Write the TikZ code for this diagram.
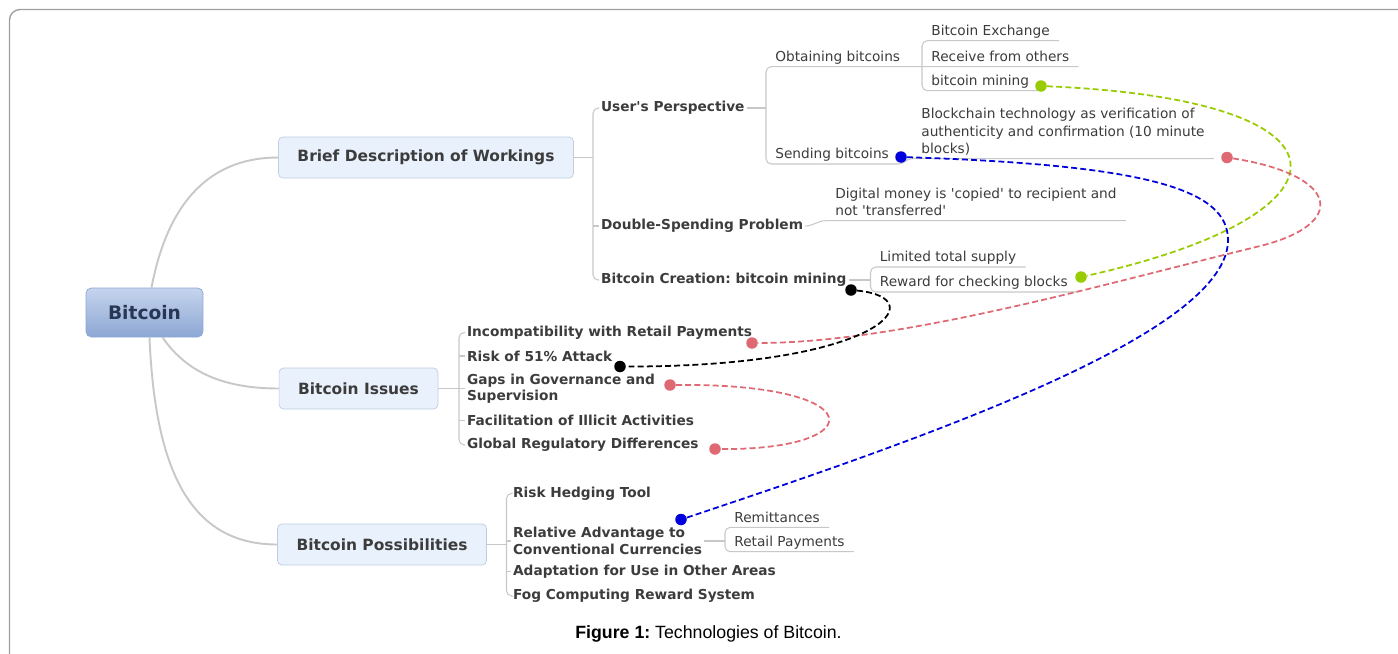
\documentclass[tikz,border=0pt]{standalone}
\usepackage{fontspec}
\setmainfont{DejaVu Sans}
\newfontfamily\capfont{Liberation Sans}
\usetikzlibrary{calc}
\frenchspacing

\definecolor{branchgray}{RGB}{200,200,200}
\definecolor{framegray}{RGB}{160,160,160}
\definecolor{topicfill}{RGB}{233,241,252}
\definecolor{topicline}{RGB}{190,205,226}
\definecolor{rootlight}{RGB}{198,212,237}
\definecolor{rootdark}{RGB}{140,167,212}
\definecolor{rootink}{RGB}{40,55,85}
\definecolor{inktext}{RGB}{60,60,60}
\definecolor{relgreen}{RGB}{153,204,0}
\definecolor{relblue}{RGB}{0,0,220}
\definecolor{relred}{RGB}{222,105,115}

\begin{document}
\begin{tikzpicture}[x=0.02cm,y=-0.02cm,
    rootbox/.style={draw=rootdark,rounded corners=3pt,top color=rootlight,bottom color=rootdark,
      font=\bfseries\fontsize{10.6}{12}\selectfont,text=rootink,inner xsep=0.44cm,minimum height=0.98cm},
    topicbox/.style={draw=topicline,fill=topicfill,rounded corners=2.5pt,
      font=\bfseries\fontsize{8.8}{10}\selectfont,text=inktext,inner xsep=0.38cm,minimum height=0.82cm},
    subtopic/.style={anchor=west,inner sep=1pt,align=left,font=\bfseries\fontsize{7.8}{9.4}\selectfont,text=inktext},
    leaf/.style={anchor=south west,inner xsep=0.18cm,inner ysep=0.8pt,text depth=1.9pt,align=left,
      font=\fontsize{7.8}{9.9}\selectfont,text=inktext},
    branch/.style={draw=branchgray,line width=0.6pt},
    trunk/.style={draw=branchgray,line width=1.1pt},
    reldot/.style={circle,fill=#1,inner sep=0pt,minimum size=0.23cm},
    rel/.style={draw=#1,line width=1pt,dash pattern=on 3.4pt off 1.8pt}]
  \useasboundingbox (0,0) rectangle (1398,653);
  \draw[framegray,line width=0.8pt,rounded corners=6pt] (9.5,700) -- (9.5,9.5) -- (1450,9.5);

  % central topic and main branches
  \node[rootbox] (root) at (144.5,312.5) {Bitcoin};
  \node[topicbox] (brief) at (426,157.5) {Brief Description of Workings};
  \node[topicbox] (issues) at (358.5,388.5) {Bitcoin Issues};
  \node[topicbox] (poss) at (382,544.5) {Bitcoin Possibilities};
  \draw[trunk] ($(root.north)+(7,0)$) .. controls (170,190) and (220,157.5) .. (brief.west);
  \draw[trunk] ($(root.south)+(18,0)$) .. controls (185,370) and (220,388.5) .. (issues.west);
  \draw[trunk] ($(root.south)+(5,0)$) .. controls (155,470) and (190,544.5) .. (poss.west);

  % workings
  \node[subtopic] (up) at (599,108) {User\textquotesingle s Perspective};
  \node[subtopic] (ds) at (599,226) {Double-Spending Problem};
  \node[subtopic] (bc) at (599,280) {Bitcoin Creation: bitcoin mining};
  \coordinate (b1) at (593,157.5);
  \draw[branch] (brief.east) -- (b1);
  \draw[branch,rounded corners=3pt] (up.west) -| (b1) |- (bc.west);
  \draw[branch] (ds.west) -- (ds.west -| b1);

  \node[leaf] (obt) at (766,66.7) {Obtaining bitcoins};
  \node[leaf] (snd) at (766,164) {Sending bitcoins};
  \node[leaf] (exch) at (922,40.7) {Bitcoin Exchange};
  \node[leaf] (recv) at (922,66.7) {Receive from others};
  \node[leaf] (mine) at (922,90.7) {bitcoin mining};
  \node[leaf] (chain) at (912,158.7) {Blockchain technology as verification of\\authenticity and confirmation (10 minute\\blocks)};
  \node[leaf] (copy) at (826,220.7) {Digital money is \textquotesingle copied\textquotesingle\ to recipient and\\not \textquotesingle transferred\textquotesingle};
  \node[leaf] (supply) at (870.5,267) {Limited total supply};
  \node[leaf] (reward) at (870.5,292) {Reward for checking blocks};
  \draw[branch] (up.east) -- (up.east -| obt.south west);
  \draw[branch,rounded corners=3pt] (recv.south east) -- (obt.south west) -- (snd.south west) -- (snd.south east);
  \draw[branch,rounded corners=3pt] (exch.south east) -- (exch.south west) -- (mine.south west) -- (mine.south east);
  \draw[branch] (snd.south east) to[out=0,in=180] (chain.south west) -- (chain.south east);
  \draw[branch] (ds.east) to[out=0,in=180] (copy.south west) -- (copy.south east);
  \draw[branch] (bc.east) -- (bc.east -| supply.south west);
  \draw[branch,rounded corners=3pt] (supply.south east) -- (supply.south west) -- (reward.south west) -- (reward.south east);

  % issues
  \node[subtopic] (inc) at (465,332.5) {Incompatibility with Retail Payments};
  \node[subtopic] (r51) at (465,356) {Risk of 51\% Attack};
  \node[subtopic] (gap) at (465,388.7) {Gaps in Governance and\\Supervision};
  \node[subtopic] (ill) at (465,420.7) {Facilitation of Illicit Activities};
  \node[subtopic] (glob) at (465,445) {Global Regulatory Differences};
  \coordinate (b2) at (459,388.5);
  \draw[branch] (issues.east) -- (b2);
  \draw[branch,rounded corners=3pt] (inc.west) -| (b2) |- (glob.west);
  \foreach \n in {r51,gap,ill}
    \draw[branch] (\n.west) -- (\n.west -| b2);

  % possibilities
  \node[subtopic] (hedge) at (511,493.3) {Risk Hedging Tool};
  \node[subtopic] (rel) at (511,541) {Relative Advantage to\\Conventional Currencies};
  \node[subtopic] (adapt) at (511,571.7) {Adaptation for Use in Other Areas};
  \node[subtopic] (fog) at (511,596) {Fog Computing Reward System};
  \coordinate (b3) at (506.5,544.5);
  \draw[branch] (poss.east) -- (b3);
  \draw[branch,rounded corners=3pt] (hedge.west) -| (b3) |- (fog.west);
  \foreach \n in {rel,adapt}
    \draw[branch] (\n.west) -- (\n.west -| b3);
  \node[leaf] (remit) at (725,527.3) {Remittances};
  \node[leaf] (retail) at (725,551.7) {Retail Payments};
  \draw[branch] (rel.east) -- (rel.east -| remit.south west);
  \draw[branch,rounded corners=3pt] (remit.south east) -- (remit.south west) -- (retail.south west) -- (retail.south east);

  % relationships
  \node[reldot=relgreen] (gA) at (1041,86) {};
  \node[reldot=relgreen] (gB) at (1081,277) {};
  \node[reldot=relblue] (uA) at (901,157) {};
  \node[reldot=relblue] (uB) at (681,519.5) {};
  \node[reldot=relred] (rA) at (1227,157.5) {};
  \node[reldot=relred] (rB) at (752,343) {};
  \node[reldot=relred] (rC) at (670,385) {};
  \node[reldot=relred] (rD) at (715,449) {};
  \node[reldot=black] (kA) at (851,290) {};
  \node[reldot=black] (kB) at (620,366.5) {};
  \draw[rel=relgreen] (gA) .. controls (1370,100) and (1360,215) .. (gB);
  \draw[rel=relblue] (uA) .. controls (1150,165) and (1228,190) .. (1228,240)
    .. controls (1228,330) and (950,430) .. (uB);
  \draw[rel=relred] (rA) .. controls (1340,175) and (1350,225) .. (1256,247)
    .. controls (1100,285) and (900,343) .. (rB);
  \draw[rel=relred] (rC) .. controls (872,383) and (872,450) .. (rD);
  \draw[rel=black] (kA) .. controls (935,298) and (880,367) .. (kB);

  \node[font=\capfont\fontsize{10.1}{12}\selectfont] (cap) at (708.5,634) {\textbf{Figure 1:} Technologies of Bitcoin.};
\end{tikzpicture}
\end{document}
